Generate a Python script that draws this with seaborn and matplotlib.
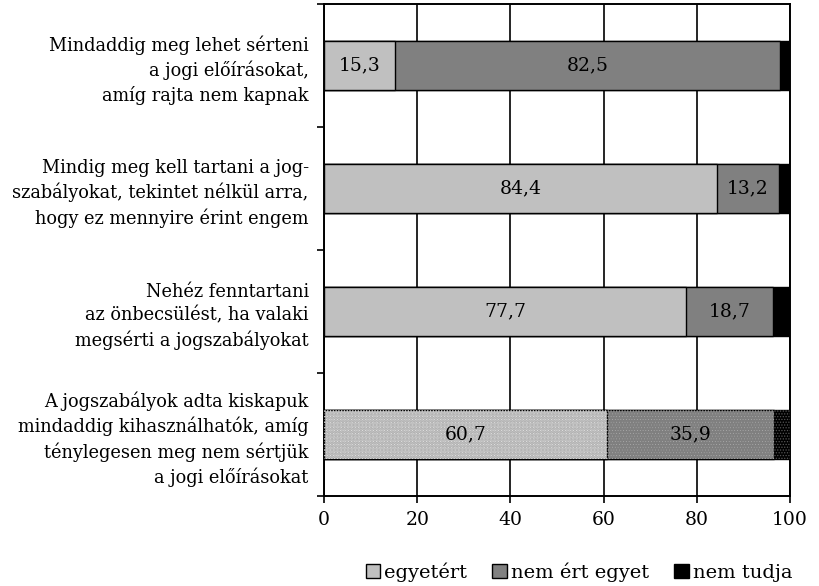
import numpy as np
import pandas as pd
import matplotlib
matplotlib.use('Agg')
import matplotlib.pyplot as plt
import seaborn as sns
from matplotlib.patches import Patch

# Adatok
kategoriak = [
    "Mindaddig meg lehet sérteni\na jogi előírásokat,\namíg rajta nem kapnak",
    "Mindig meg kell tartani a jog-\nszabályokat, tekintet nélkül arra,\nhogy ez mennyire érint engem",
    "Nehéz fenntartani\naz önbecsülést, ha valaki\nmegsérti a jogszabályokat",
    "A jogszabályok adta kiskapuk\nmindaddig kihasználhatók, amíg\nténylegesen meg nem sértjük\na jogi előírásokat",
]
egyetert = [15.3, 84.4, 77.7, 60.7]
nem_ert_egyet = [82.5, 13.2, 18.7, 35.9]
nem_tudja = [2.2, 2.4, 3.6, 3.4]
sorozat_nevek = ["egyetért", "nem ért egyet", "nem tudja"]
szinek = ["#c0c0c0", "#808080", "#000000"]

df = pd.DataFrame({
    "kategoria": kategoriak,
    "egyetert": egyetert,
    "nem_ert": nem_ert_egyet,
    "nem_tudja": nem_tudja,
})
df["cum1"] = df["egyetert"]
df["cum2"] = df["egyetert"] + df["nem_ert"]
df["cum3"] = df["cum2"] + df["nem_tudja"]

sns.set_theme(style="white")
plt.rcParams["font.family"] = ["DejaVu Serif"]
plt.rcParams["text.color"] = "black"
plt.rcParams["xtick.color"] = "black"
plt.rcParams["ytick.color"] = "black"
plt.rcParams["hatch.linewidth"] = 0.6

fig = plt.figure(figsize=(8.19, 5.86), dpi=100)
ax = fig.add_axes([0.3956, 0.1536, 0.5690, 0.8396])

# Halmozott sávok: a leghosszabbtól a legrövidebbig
for col, szin in zip(["cum3", "cum2", "cum1"], szinek[::-1]):
    sns.barplot(data=df, x=col, y="kategoria", order=kategoriak, orient="h",
                color=szin, saturation=1, width=0.4, edgecolor="black",
                linewidth=1, ax=ax, zorder=3)

# Pontozott mintázat az utolsó sávon
utolso = df.iloc[[3]]
for col, hszin in zip(["cum3", "cum2", "cum1"], ["#555555", "#a8a8a8", "#e0e0e0"]):
    sns.barplot(data=utolso, x=col, y="kategoria", order=kategoriak, orient="h",
                facecolor="none", edgecolor=hszin, hatch="......", linewidth=0,
                saturation=1, width=0.4, ax=ax, zorder=4)

# Értékcímkék
for i, row in df.iterrows():
    ax.text(row["egyetert"] / 2, i, f"{row['egyetert']:.1f}".replace(".", ","),
            ha="center", va="center", fontsize=13.5, color="black", zorder=5)
    ax.text(row["egyetert"] + row["nem_ert"] / 2, i,
            f"{row['nem_ert']:.1f}".replace(".", ","),
            ha="center", va="center", fontsize=13.5, color="black", zorder=5)

ax.set_xlim(0, 100)
ax.set_xticks([0, 20, 40, 60, 80, 100])
ax.set_xlabel("")
ax.set_ylabel("")
ax.set_axisbelow(True)
ax.grid(axis="x", color="black", linewidth=1.2)
ax.grid(axis="y", visible=False)

for s in ax.spines.values():
    s.set_color("black")
    s.set_linewidth(1.4)

ax.tick_params(axis="x", which="major", direction="out", length=5, width=1.2,
               color="black", labelcolor="black", labelsize=13.5, bottom=True, pad=6)
ax.tick_params(axis="y", which="major", length=0, labelsize=12.8,
               labelcolor="black", pad=11)
ax.set_yticks(np.arange(-0.5, len(kategoriak), 1), minor=True)
ax.tick_params(axis="y", which="minor", direction="out", length=5, width=1.2,
               color="black", left=True)
for lab in ax.get_yticklabels():
    lab.set_horizontalalignment("right")
    lab.set_multialignment("right")
    lab.set_linespacing(1.38)

kezelok = [Patch(facecolor=c, edgecolor="black", linewidth=1) for c in szinek]
fig.legend(kezelok, sorozat_nevek, loc="center", bbox_to_anchor=(0.707, 0.024),
           ncol=3, frameon=False, fontsize=14, handlelength=0.75, handleheight=0.75,
           handletextpad=0.2, columnspacing=1.3)

fig.savefig("out.png", dpi=100)
